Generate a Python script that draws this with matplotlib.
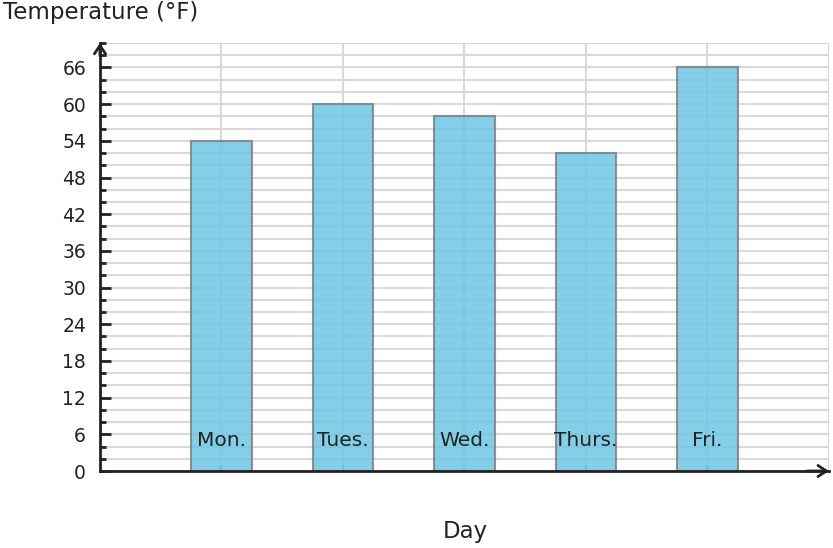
import matplotlib
matplotlib.use('Agg')
import matplotlib.pyplot as plt
from matplotlib.ticker import MultipleLocator

days = ['Mon.', 'Tues.', 'Wed.', 'Thurs.', 'Fri.']
temps = [54, 60, 58, 52, 66]
yticks = [0, 6, 12, 18, 24, 30, 36, 42, 48, 54, 60, 66]

fig = plt.figure(figsize=(8.33, 5.48), dpi=100)
ax = fig.add_axes([0.12, 0.1405, 0.875, 0.781])

xpos = list(range(1, len(days) + 1))
ax.set_xlim(0, 6)
ax.set_ylim(0, 70)

# grid behind the bars
ax.set_axisbelow(True)
ax.yaxis.set_minor_locator(MultipleLocator(2))
ax.set_yticks(yticks)
ax.grid(which='both', axis='y', color='#d9d9d9', linewidth=1.5)
for x in xpos + [6]:
    ax.axvline(x, color='#d9d9d9', linewidth=1.5, zorder=0)

ax.bar(xpos, temps, width=0.5, color='#6ec6e3', alpha=0.85,
       edgecolor='#7f7f7f', linewidth=1.5, zorder=2)

for x, d in zip(xpos, days):
    ax.text(x, 5, d, ha='center', va='center', fontsize=14.5, color='#222222', zorder=3)

ax.set_xticks(xpos)
ax.set_xticklabels([])
ax.tick_params(axis='x', direction='in', length=4, color='#5a9cb5', width=1.5)
ax.tick_params(axis='y', which='major', direction='in', length=8, width=2,
               color='#222222', labelsize=13.5, labelcolor='#222222', pad=10)
ax.tick_params(axis='y', which='minor', direction='in', length=4, width=2, color='#222222')

for s in ['top', 'right']:
    ax.spines[s].set_visible(False)
for s in ['left', 'bottom']:
    ax.spines[s].set_linewidth(2)
    ax.spines[s].set_color('#222222')

# arrow heads on both axes
ax.annotate('', xy=(0, 1.0), xytext=(0, 0.97), xycoords='axes fraction',
            arrowprops=dict(arrowstyle='->,head_length=0.6,head_width=0.4',
                            color='#222222', lw=2, shrinkA=0, shrinkB=0),
            annotation_clip=False)
ax.annotate('', xy=(1.0, 0), xytext=(0.97, 0), xycoords='axes fraction',
            arrowprops=dict(arrowstyle='->,head_length=0.6,head_width=0.4',
                            color='#222222', lw=2, shrinkA=0, shrinkB=0),
            annotation_clip=False)

fig.text(0.004, 0.977, 'Temperature (°F)', ha='left', va='center', fontsize=16.5, color='#222222')
fig.text(0.558, 0.031, 'Day', ha='center', va='center', fontsize=16.5, color='#222222')

fig.savefig('out.png', dpi=100)
